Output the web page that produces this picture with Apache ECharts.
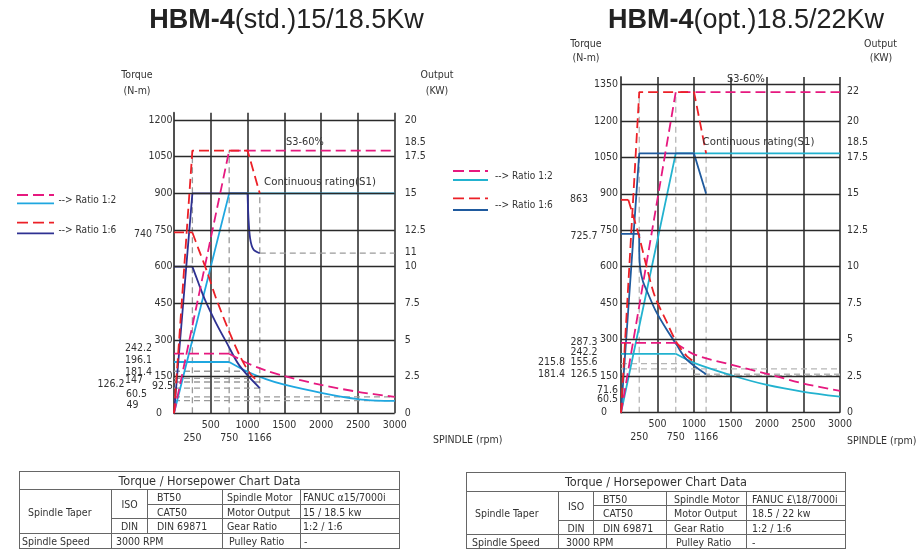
<!DOCTYPE html>
<html>
<head>
<meta charset="utf-8">
<script src="https://cdn.jsdelivr.net/npm/echarts@6.0.0/dist/echarts.min.js"></script>
<style>
html,body{margin:0;padding:0;background:#fff;}
#wrap{position:relative;width:919px;height:550px;overflow:hidden;background:#fff;}
#chart{position:absolute;left:0;top:0;width:919px;height:550px;}
table.spec{position:absolute;border-collapse:collapse;table-layout:fixed;color:#333;border:1.5px solid #444;}
table.spec td{border:1px solid #666;padding:0;white-space:nowrap;overflow:hidden;font-size:12.5px;line-height:12px;}
table.spec td.t{font-size:15px;text-align:center;}
table.spec td.c{text-align:center;}
</style>
</head>
<body>
<div id="wrap">
<div id="chart"></div>
<table class="spec" style="left:19px;top:471px;width:380px;">
<colgroup><col style="width:92px"><col style="width:36px"><col style="width:75px"><col style="width:78px"><col style="width:99px"></colgroup>
<tr style="height:18px"><td class="t" colspan="5">Torque / Horsepower Chart Data</td></tr>
<tr style="height:15px"><td rowspan="3" style="padding-left:8px">Spindle Taper</td><td rowspan="2" class="c">ISO</td><td style="padding-left:9px">BT50</td><td style="padding-left:4px">Spindle Motor</td><td style="padding-left:2px">FANUC α15/7000i</td></tr>
<tr style="height:14px"><td style="padding-left:9px">CAT50</td><td style="padding-left:4px">Motor Output</td><td style="padding-left:2px">15 / 18.5 kw</td></tr>
<tr style="height:15px"><td class="c">DIN</td><td style="padding-left:9px">DIN 69871</td><td style="padding-left:4px">Gear Ratio</td><td style="padding-left:2px">1:2 / 1:6</td></tr>
<tr style="height:15px"><td style="padding-left:2px">Spindle Speed</td><td colspan="2" style="padding-left:4px">3000 RPM</td><td style="padding-left:6px">Pulley Ratio</td><td style="padding-left:3px">-</td></tr>
</table>
<table class="spec" style="left:466px;top:472px;width:379px;">
<colgroup><col style="width:92px"><col style="width:35px"><col style="width:73px"><col style="width:80px"><col style="width:99px"></colgroup>
<tr style="height:19px"><td class="t" colspan="5">Torque / Horsepower Chart Data</td></tr>
<tr style="height:14px"><td rowspan="3" style="padding-left:8px">Spindle Taper</td><td rowspan="2" class="c">ISO</td><td style="padding-left:9px">BT50</td><td style="padding-left:7px">Spindle Motor</td><td style="padding-left:5px">FANUC £\18/7000i</td></tr>
<tr style="height:15px"><td style="padding-left:9px">CAT50</td><td style="padding-left:7px">Motor Output</td><td style="padding-left:5px">18.5 / 22 kw</td></tr>
<tr style="height:14px"><td class="c">DIN</td><td style="padding-left:9px">DIN 69871</td><td style="padding-left:7px">Gear Ratio</td><td style="padding-left:5px">1:2 / 1:6</td></tr>
<tr style="height:14px"><td style="padding-left:5px">Spindle Speed</td><td colspan="2" style="padding-left:7px">3000 RPM</td><td style="padding-left:9px">Pulley Ratio</td><td style="padding-left:5px">-</td></tr>
</table>
</div>
<script>
// ================= DATA =================
const rpmTicksTop = [500, 1000, 1500, 2000, 2500, 3000];
const rpmTicksLow = [250, 750, 1166];

const stdTorqueTicks = [150, 300, 450, 600, 750, 900, 1050, 1200];
const optTorqueTicks = [150, 300, 450, 600, 750, 900, 1050, 1200, 1350];
const stdOutputTicks = [0, 2.5, 5, 7.5, 10, 11, 12.5, 15, 17.5, 18.5, 20];
const stdOutputText  = ['0', '2.5', '5', '7.5', '10', '11', '12.5', '15', '17.5', '18.5', '20'];
const optOutputTicks = [0, 2.5, 5, 7.5, 10, 12.5, 15, 17.5, 18.5, 20, 22, 22.5];
const optOutputText  = ['0', '2.5', '5', '7.5', '10', '12.5', '15', '17.5', '18.5', '20', '22', '23.5'];

// ---- HBM-4 (std.) 15/18.5 kW : [rpm, N-m] ----
const stdMagentaPower       = [[0, 0], [750, 1075], [3000, 1075]];
const stdMagentaTorqueFlat  = [[0, 244], [750, 244]];
const stdMagentaTorqueCurve = [[750, 244], [1000, 205], [1250, 175], [1500, 152], [2000, 116], [2500, 88], [3000, 67]];
const stdCyanPower          = [[0, 0], [750, 900], [3000, 900]];
const stdCyanTorqueFlat     = [[0, 210], [750, 210]];
const stdCyanTorqueCurve    = [[750, 210], [1000, 170], [1250, 140], [1500, 117], [2000, 84], [2500, 58], [2750, 52], [3000, 51]];
const stdRedPower           = [[0, 0], [250, 1075], [1000, 1075], [1166, 900]];
const stdRedTorqueFlat      = [[0, 740], [250, 740]];
const stdRedTorqueCurve     = [[250, 740], [330, 675], [455, 575], [570, 472], [760, 327], [900, 232], [1045, 158], [1166, 128]];
const stdNavyPower          = [[0, 0], [250, 900], [1000, 900]];
const stdNavyPowerDrop      = [[1000, 900], [1012, 800], [1035, 715], [1080, 670], [1166, 655]];
const stdNavyTorqueFlat     = [[0, 600], [250, 600]];
const stdNavyTorqueCurve    = [[250, 600], [330, 535], [420, 465], [570, 370], [710, 292], [890, 195], [1166, 103]];
const stdGuides = [
  [[250, 0], [250, 1075]], [[750, 0], [750, 1075]], [[1166, 0], [1166, 900]],
  [[1166, 655], [3000, 655]],
  [[0, 172], [1000, 172]], [[0, 143], [1000, 143]],
  [[0, 128], [1166, 128]], [[0, 103], [1166, 103]],
  [[0, 67], [3000, 67]], [[0, 52], [3000, 52]]
];
const stdValueLabels = ['740', '242.2', '196.1', '181.4', '147', '126.2', '92.5', '60.5', '49', '0'];

// ---- HBM-4 (opt.) 18.5/22 kW : [rpm, N-m] ----
const optMagentaPower       = [[0, 0], [750, 1318], [3000, 1318]];
const optMagentaTorqueFlat  = [[0, 287], [750, 287]];
const optMagentaTorqueCurve = [[750, 287], [1000, 240], [1500, 198], [2000, 160], [2500, 120], [3000, 90]];
const optCyanPower          = [[0, 0], [750, 1066], [3000, 1066]];
const optCyanTorqueFlat     = [[0, 242], [750, 242]];
const optCyanTorqueCurve    = [[750, 242], [1000, 205], [1500, 155], [2000, 114], [2500, 86], [3000, 66]];
const optRedPower           = [[0, 0], [250, 1318], [1000, 1318], [1166, 1066]];
const optRedTorqueFlat      = [[0, 875], [100, 875]];
const optRedTorqueCurve     = [[100, 875], [236, 738], [350, 601], [464, 478], [623, 375], [759, 290], [895, 235], [1000, 210]];
const optNavyPower          = [[0, 0], [250, 1066], [1000, 1066], [1166, 900]];
const optNavyTorqueFlat     = [[0, 735], [250, 735], [250, 660]];
const optNavyTorqueCurve    = [[250, 660], [262, 595], [300, 540], [373, 488], [470, 422], [623, 343], [760, 280], [900, 218], [1166, 158]];
const optGuides = [
  [[250, 0], [250, 1318]], [[750, 0], [750, 1318]], [[1166, 0], [1166, 1066]],
  [[0, 202], [1000, 202]], [[0, 180], [3000, 180]],
  [[1000, 158], [3000, 158]], [[1166, 152], [3000, 152]]
];
const optValueLabels = ['863', '725.7', '287.3', '242.2', '215.8', '155.6', '181.4', '126.5', '71.6', '60.5', '0'];

// ================= LAYOUT / STYLE =================
function hasFont(name) {
  const c = document.createElement('canvas').getContext('2d');
  const s = 'abcdefghijklmnopWWW0123456789';
  c.font = '30px monospace'; const w1 = c.measureText(s).width;
  c.font = '30px "' + name + '", monospace'; const w2 = c.measureText(s).width;
  return Math.abs(w1 - w2) > 0.5;
}
let FF = "Roboto, 'Liberation Sans', sans-serif", K = 0.86;
if (hasFont('Liberation Sans Narrow')) { FF = "'Liberation Sans Narrow', sans-serif"; K = 1; }
else if (hasFont('DejaVu Sans Condensed')) { FF = "'DejaVu Sans Condensed', sans-serif"; K = 0.84; }
document.querySelectorAll('table.spec td').forEach(td => {
  td.style.fontFamily = FF;
  td.style.fontSize = (td.classList.contains('t') ? 15 : 12.5) * K + 'px';
});

const FS = 12.5 * K;
const TXT = '#333';
const COL = {
  std: { magenta: '#E6197F', cyan: '#1FA7E0', red: '#EC2027', navy: '#2E3192' },
  opt: { magenta: '#E6197F', cyan: '#22B2CF', red: '#EC2027', navy: '#1F5A9E' }
};
const GRID = [
  { left: 174, top: 112.7, width: 220.7, height: 300.6, yMax: 1230 },
  { left: 621, top: 77, width: 219, height: 335.7, yMax: 1380 }
];
const stdLabelPos = [[152,234],[152,348],[152,360.5],[152,372.5],[143,380.5],[124.5,384.5],[173,386],[147,394.5],[138.5,405.5],[162,413]];
const optLabelPos = [[588,199],[597.5,236],[597.5,342.7],[597.5,352.7],[565,362.7],[597.5,362.7],[565,374],[597.5,374],[618,390],[618,399.3],[607,412]];

function curve(g, data, color, dashed, smooth, z) {
  return {
    type: 'line', xAxisIndex: g, yAxisIndex: g * 2, data: data,
    symbol: 'none', silent: true, animation: false, clip: false,
    smooth: smooth ? 0.3 : false,
    lineStyle: { color: color, width: 1.8, type: dashed ? [10, 5] : 'solid' },
    z: z || 4
  };
}
function guide(g, data, color) {
  return {
    type: 'line', xAxisIndex: g, yAxisIndex: g * 2, data: data,
    symbol: 'none', silent: true, animation: false,
    lineStyle: { color: color, width: 1.3, type: [6, 4] }, z: 3
  };
}
function gridLines(g, ticks) {
  return {
    type: 'line', xAxisIndex: g, yAxisIndex: g * 2, data: [], silent: true, animation: false,
    markLine: {
      silent: true, symbol: ['none', 'none'], animation: false, label: { show: false },
      lineStyle: { color: '#2a2a2a', width: 1.3, type: 'solid' },
      data: [0].concat(ticks).map(v => ({ yAxis: v }))
    }, z: 2
  };
}

const series = [];
series.push(gridLines(0, stdTorqueTicks), gridLines(1, optTorqueTicks));
stdGuides.forEach(d => series.push(guide(0, d, '#9a9a9a')));
optGuides.forEach(d => series.push(guide(1, d, '#b5b5b5')));

const C0 = COL.std, C1 = COL.opt;
series.push(
  curve(0, stdCyanPower, C0.cyan, false, false),
  curve(0, stdCyanTorqueFlat, C0.cyan, false, false),
  curve(0, stdCyanTorqueCurve, C0.cyan, false, true),
  curve(0, stdNavyPower, C0.navy, false, false),
  curve(0, stdNavyPowerDrop, C0.navy, false, true),
  curve(0, stdNavyTorqueFlat, C0.navy, false, false),
  curve(0, stdNavyTorqueCurve, C0.navy, false, true),
  curve(0, stdMagentaPower, C0.magenta, true, false, 5),
  curve(0, stdMagentaTorqueFlat, C0.magenta, true, false, 5),
  curve(0, stdMagentaTorqueCurve, C0.magenta, true, true, 5),
  curve(0, stdRedPower, C0.red, true, false, 6),
  curve(0, stdRedTorqueFlat, C0.red, true, false, 6),
  curve(0, stdRedTorqueCurve, C0.red, true, true, 6),

  curve(1, optCyanPower, C1.cyan, false, false),
  curve(1, optCyanTorqueFlat, C1.cyan, false, false),
  curve(1, optCyanTorqueCurve, C1.cyan, false, true),
  curve(1, optNavyPower, C1.navy, false, false),
  curve(1, optNavyTorqueFlat, C1.navy, false, false),
  curve(1, optNavyTorqueCurve, C1.navy, false, true),
  curve(1, optMagentaPower, C1.magenta, true, false, 5),
  curve(1, optMagentaTorqueFlat, C1.magenta, true, false, 5),
  curve(1, optMagentaTorqueCurve, C1.magenta, true, true, 5),
  curve(1, optRedPower, C1.red, true, false, 6),
  curve(1, optRedTorqueFlat, C1.red, true, false, 6),
  curve(1, optRedTorqueCurve, C1.red, true, true, 6)
);

function xAxis(g) {
  return {
    type: 'value', gridIndex: g, min: 0, max: 3000, interval: 500,
    axisLine: { show: false }, axisTick: { show: false },
    splitLine: { show: true, lineStyle: { color: '#4a4a4a', width: 1.8 } },
    axisLabel: {
      customValues: rpmTicksTop.concat(rpmTicksLow), margin: 5,
      color: TXT, fontSize: FS, fontFamily: FF, lineHeight: 13, hideOverlap: false,
      formatter: v => (rpmTicksLow.indexOf(v) >= 0 ? '\n' : '') + String(v)
    }
  };
}
function torqueAxis(g, ticks) {
  return {
    type: 'value', gridIndex: g, min: 0, max: GRID[g].yMax, interval: 150,
    axisLine: { show: true, onZero: false, lineStyle: { color: '#505050', width: 1.8 } },
    axisTick: { show: false }, splitLine: { show: false },
    axisLabel: { customValues: ticks, margin: g === 0 ? 1.5 : 3, color: TXT, fontSize: FS, fontFamily: FF,
      formatter: v => String(v) }
  };
}
function outputAxis(g, ticks, text) {
  return {
    type: 'value', gridIndex: g, position: 'right', min: 0, max: GRID[g].yMax / 60,
    axisLine: { show: false }, axisTick: { show: false }, splitLine: { show: false },
    axisLabel: {
      customValues: ticks, margin: g === 0 ? 10 : 7, color: TXT, fontSize: FS, fontFamily: FF,
      formatter: v => { const i = ticks.indexOf(v); return i >= 0 ? text[i] : ''; }
    }
  };
}

function txt(x, y, text, opts) {
  opts = opts || {};
  return {
    type: 'text', x: x, y: y, silent: true, z: 100,
    style: {
      text: text, fill: opts.fill || TXT, fontSize: opts.size || FS, fontFamily: opts.family || FF,
      fontWeight: opts.weight || 'normal',
      align: opts.align || 'center', verticalAlign: 'middle',
      textAlign: opts.align || 'center', textVerticalAlign: 'middle',
      rich: opts.rich
    }
  };
}
function seg(x1, y1, x2, y2, color, dashed) {
  return {
    type: 'line', silent: true, z: 100,
    shape: { x1: x1, y1: y1, x2: x2, y2: y2 },
    style: { stroke: color, lineWidth: 1.8, lineDash: dashed ? [11, 5] : null }
  };
}

const TF = "'Liberation Sans', Arial, sans-serif";
const TR = { b: { fontSize: 27, fontWeight: 'bold', fontFamily: TF, fill: '#222' }, n: { fontSize: 27, fontFamily: TF, fill: '#222' } };
const graphic = [
  txt(286.5, 21, '{b|HBM-4}{n|(std.)15/18.5Kw}', { rich: TR }),
  txt(746, 21, '{b|HBM-4}{n|(opt.)18.5/22Kw}', { rich: TR }),
  txt(137, 75, 'Torque'), txt(137, 91.7, '(N-m)'),
  txt(437, 75, 'Output'), txt(437, 91.7, '(KW)'),
  txt(586, 44, 'Torque'), txt(586, 58.3, '(N-m)'),
  txt(880.5, 44, 'Output'), txt(881, 58.3, '(KW)'),
  txt(433, 440, 'SPINDLE (rpm)', { align: 'left' }),
  txt(847, 441.5, 'SPINDLE (rpm)', { align: 'left' }),
  txt(305, 141.7, 'S3-60%', { size: 13 * K }),
  txt(320, 182, 'Continuous rating(S1)', { size: 13.5 * K }),
  txt(746, 79.3, 'S3-60%', { size: 13 * K }),
  txt(758.5, 141.7, 'Continuous rating(S1)', { size: 13.5 * K }),
  seg(17, 195, 54, 195, C0.magenta, true), seg(17, 203.3, 54, 203.3, C0.cyan, false),
  seg(17, 222.7, 54, 222.7, C0.red, true), seg(17, 233.3, 54, 233.3, C0.navy, false),
  txt(58.5, 200, '--> Ratio 1:2', { align: 'left', size: 12 * K }),
  txt(58.5, 230, '--> Ratio 1:6', { align: 'left', size: 12 * K }),
  seg(453, 171, 488, 171, C1.magenta, true), seg(453, 180, 488, 180, C1.cyan, false),
  seg(453, 198.3, 488, 198.3, C1.red, true), seg(453, 210, 488, 210, C1.navy, false),
  txt(495, 176, '--> Ratio 1:2', { align: 'left', size: 12 * K }),
  txt(495, 205, '--> Ratio 1:6', { align: 'left', size: 12 * K })
];
stdValueLabels.forEach((t, i) => graphic.push(txt(stdLabelPos[i][0], stdLabelPos[i][1], t, { align: 'right' })));
optValueLabels.forEach((t, i) => graphic.push(txt(optLabelPos[i][0], optLabelPos[i][1], t, { align: 'right' })));

const chart = echarts.init(document.getElementById('chart'), null, { renderer: 'canvas' });
chart.setOption({
  animation: false,
  backgroundColor: 'transparent',
  grid: GRID.map(g => ({ left: g.left, top: g.top, width: g.width, height: g.height, containLabel: false, outerBoundsMode: 'none' })),
  xAxis: [xAxis(0), xAxis(1)],
  yAxis: [
    torqueAxis(0, stdTorqueTicks), outputAxis(0, stdOutputTicks, stdOutputText),
    torqueAxis(1, optTorqueTicks), outputAxis(1, optOutputTicks, optOutputText)
  ],
  series: series,
  graphic: graphic
});
</script>
</body>
</html>
